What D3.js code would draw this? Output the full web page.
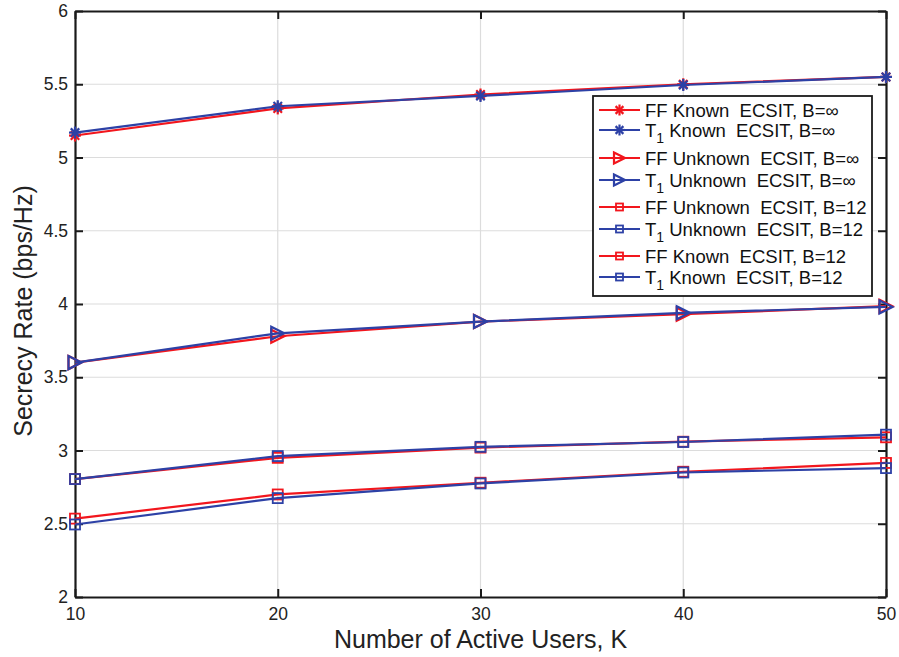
<!DOCTYPE html>
<html>
<head>
<meta charset="utf-8">
<script src="https://cdn.jsdelivr.net/npm/d3@7"></script>
<style>
  body { margin: 0; background: #fff; }
  text { font-family: "Liberation Sans", Arial, sans-serif; white-space: pre; }
</style>
</head>
<body>
<svg id="chart" width="899" height="657"></svg>
<script>
// data
const users = [10, 20, 30, 40, 50];
const ffKnownInf   = [5.15, 5.335, 5.43, 5.50, 5.55];
const t1KnownInf   = [5.17, 5.35, 5.42, 5.495, 5.55];
const ffUnknownInf = [3.60, 3.78, 3.88, 3.93, 3.985];
const t1UnknownInf = [3.60, 3.80, 3.88, 3.94, 3.98];
const ffUnknown12  = [2.535, 2.70, 2.78, 2.855, 2.915];
const t1Unknown12  = [2.495, 2.675, 2.775, 2.85, 2.88];
const ffKnown12    = [2.805, 2.95, 3.02, 3.06, 3.09];
const t1Known12    = [2.805, 2.962, 3.025, 3.058, 3.108];
const yTicks = [2, 2.5, 3, 3.5, 4, 4.5, 5, 5.5, 6];

const RED = '#f2161d', BLUE = '#2d41a6';

const series = [
  {name: 'FF', rest: ' Known  ECSIT, B=\u221e', vals: ffKnownInf, color: RED, marker: 'star'},
  {name: 'T', sub: '1', rest: ' Known  ECSIT, B=\u221e', vals: t1KnownInf, color: BLUE, marker: 'star'},
  {name: 'FF', rest: ' Unknown  ECSIT, B=\u221e', vals: ffUnknownInf, color: RED, marker: 'tri'},
  {name: 'T', sub: '1', rest: ' Unknown  ECSIT, B=\u221e', vals: t1UnknownInf, color: BLUE, marker: 'tri'},
  {name: 'FF', rest: ' Unknown  ECSIT, B=12', vals: ffUnknown12, color: RED, marker: 'sq'},
  {name: 'T', sub: '1', rest: ' Unknown  ECSIT, B=12', vals: t1Unknown12, color: BLUE, marker: 'sq'},
  {name: 'FF', rest: ' Known  ECSIT, B=12', vals: ffKnown12, color: RED, marker: 'sq'},
  {name: 'T', sub: '1', rest: ' Known  ECSIT, B=12', vals: t1Known12, color: BLUE, marker: 'sq'}
];

const margin = {top: 11, right: 13, bottom: 60, left: 75};
const width = 899 - margin.left - margin.right,
      height = 657 - margin.top - margin.bottom;

const svg = d3.select('#chart').append('g')
  .attr('transform', 'translate(' + margin.left + ',' + margin.top + ')');

const x = d3.scaleLinear().domain([10, 50]).range([0, width]);
const y = d3.scaleLinear().domain([2, 6]).range([height, 0]);

// grid
svg.append('g').selectAll('line').data(users.slice(1, -1)).join('line')
  .attr('x1', d => x(d)).attr('x2', d => x(d)).attr('y1', 0).attr('y2', height)
  .attr('stroke', '#dcdcdc').attr('stroke-width', 1.2);
svg.append('g').selectAll('line').data(yTicks.slice(1, -1)).join('line')
  .attr('y1', d => y(d)).attr('y2', d => y(d)).attr('x1', 0).attr('x2', width)
  .attr('stroke', '#dcdcdc').attr('stroke-width', 1.2);

// axes (box with inward ticks)
const fmt = d3.format('~g');
const axB = svg.append('g').attr('transform', 'translate(0,' + height + ')')
  .call(d3.axisBottom(x).tickValues(users).tickSizeInner(-8).tickSizeOuter(0).tickPadding(11).tickFormat(fmt));
const axT = svg.append('g')
  .call(d3.axisTop(x).tickValues(users).tickSizeInner(-8).tickSizeOuter(0).tickFormat(''));
const axL = svg.append('g')
  .call(d3.axisLeft(y).tickValues(yTicks).tickSizeInner(-8).tickSizeOuter(0).tickPadding(7).tickFormat(fmt));
const axR = svg.append('g').attr('transform', 'translate(' + width + ',0)')
  .call(d3.axisRight(y).tickValues(yTicks).tickSizeInner(-8).tickSizeOuter(0).tickFormat(''));
[axB, axT, axL, axR].forEach(a => {
  a.selectAll('.domain').attr('stroke', '#1a1a1a').attr('stroke-width', 2.2);
  a.selectAll('line').attr('stroke', '#1a1a1a').attr('stroke-width', 2);
  a.selectAll('text').attr('font-size', 17.5).attr('fill', '#222');
});

const line = d3.line().x((d, i) => x(users[i])).y(d => y(d));

function drawMarker(g, type, color, size) {
  if (type === 'star') {
    const r = size / 2;
    [0, 45, 90, 135].forEach(a => {
      const rad = a * Math.PI / 180;
      g.append('line')
        .attr('x1', -r * Math.cos(rad)).attr('y1', -r * Math.sin(rad))
        .attr('x2', r * Math.cos(rad)).attr('y2', r * Math.sin(rad))
        .attr('stroke', color).attr('stroke-width', 2.2);
    });
  } else if (type === 'tri') {
    const r = size / 2;
    g.append('path')
      .attr('d', 'M' + (-r) + ',' + (-r) + 'L' + r + ',0L' + (-r) + ',' + r + 'Z')
      .attr('fill', 'none').attr('stroke', color).attr('stroke-width', 2.2);
  } else {
    const r = size / 2 - 1;
    g.append('rect').attr('x', -r).attr('y', -r).attr('width', 2 * r).attr('height', 2 * r)
      .attr('fill', 'none').attr('stroke', color).attr('stroke-width', 1.8);
  }
}

series.forEach(s => {
  svg.append('path').datum(s.vals)
    .attr('d', line).attr('fill', 'none')
    .attr('stroke', s.color).attr('stroke-width', 2.2);
  s.vals.forEach((v, i) => {
    const g = svg.append('g').attr('transform', 'translate(' + x(users[i]) + ',' + y(v) + ')');
    drawMarker(g, s.marker, s.color, s.marker === 'tri' ? 13 : 12);
  });
});

// axis titles
d3.select('#chart').append('text')
  .attr('x', margin.left + width / 2).attr('y', 648)
  .attr('text-anchor', 'middle').attr('font-size', 25).attr('fill', '#222')
  .text('Number of Active Users, K');
d3.select('#chart').append('text')
  .attr('transform', 'translate(32,311) rotate(-90)')
  .attr('text-anchor', 'middle').attr('font-size', 25).attr('fill', '#222')
  .text('Secrecy Rate (bps/Hz)');

// legend
const legend = d3.select('#chart').append('g').attr('transform', 'translate(593,96)');
legend.append('rect').attr('width', 279).attr('height', 200)
  .attr('fill', '#fff').attr('stroke', '#1a1a1a').attr('stroke-width', 1.8);
const rowY = [14, 34, 62, 84, 111, 133, 160, 181];
series.forEach((s, i) => {
  const row = legend.append('g').attr('transform', 'translate(0,' + rowY[i] + ')');
  row.append('line').attr('x1', 6).attr('x2', 47).attr('stroke', s.color).attr('stroke-width', 2);
  drawMarker(row.append('g').attr('transform', 'translate(26.5,0)'), s.marker, s.color, s.marker === 'sq' ? 9 : 11);
  const t = row.append('text').attr('x', 52).attr('y', 6.5).attr('font-size', 18.5).attr('fill', '#111');
  t.append('tspan').text(s.name);
  if (s.sub) t.append('tspan').attr('dy', 6).attr('font-size', 14).text(s.sub);
  t.append('tspan').attr('dy', s.sub ? -6 : 0).text(s.rest);
});
</script>
</body>
</html>
